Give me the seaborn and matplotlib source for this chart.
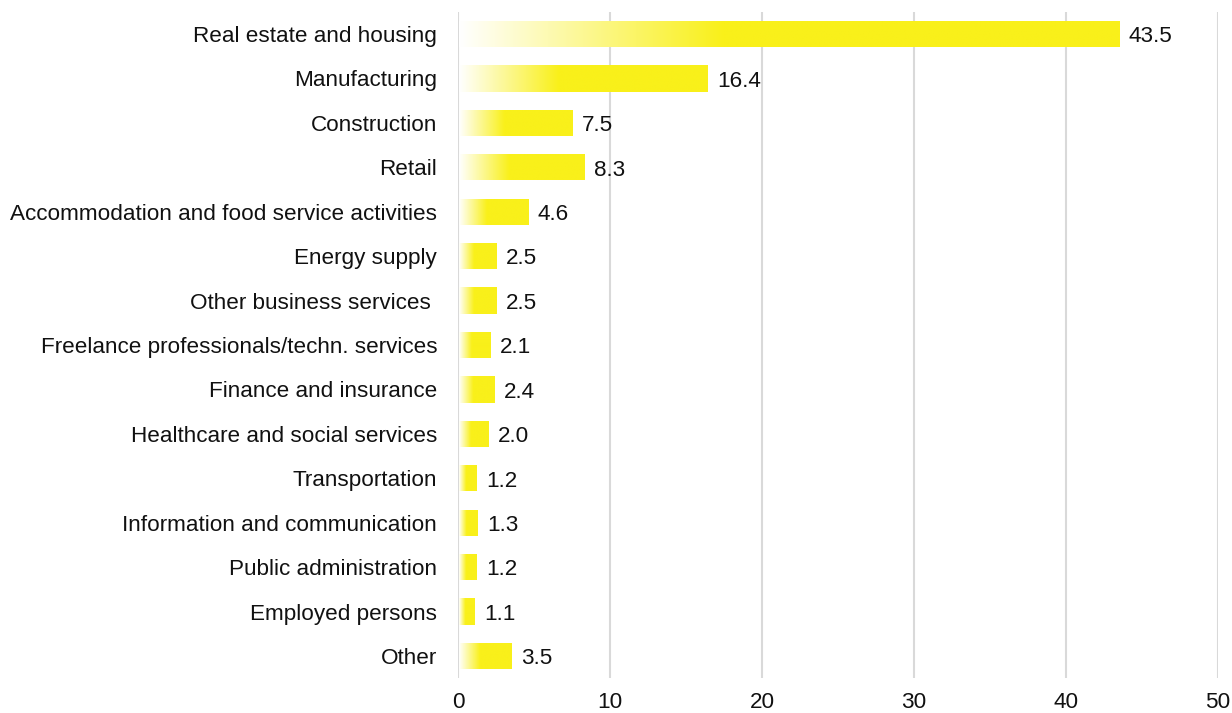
import numpy as np
import pandas as pd
import matplotlib
matplotlib.use("Agg")
import matplotlib.pyplot as plt
from matplotlib.colors import LinearSegmentedColormap
import seaborn as sns

categories = [
    "Real estate and housing",
    "Manufacturing",
    "Construction",
    "Retail",
    "Accommodation and food service activities",
    "Energy supply",
    "Other business services ",
    "Freelance professionals/techn. services",
    "Finance and insurance",
    "Healthcare and social services",
    "Transportation",
    "Information and communication",
    "Public administration",
    "Employed persons",
    "Other",
]
values = [43.5, 16.4, 7.5, 8.3, 4.6, 2.5, 2.5, 2.1, 2.4, 2.0, 1.2, 1.3, 1.2, 1.1, 3.5]
x_ticks = [0, 10, 20, 30, 40, 50]

YELLOW = "#f9f01a"
GRID = "#d9d9d9"
FS = 16.2

sns.set_theme(style="white")
plt.rcParams["font.family"] = ["Liberation Sans", "DejaVu Sans"]

df = pd.DataFrame({"category": categories, "value": values})

fig = plt.figure(figsize=(12.32, 7.13), dpi=100)
ax = fig.add_axes([0.3718, 0.0488, 0.9886 - 0.3718, 0.9834 - 0.0488])

sns.barplot(data=df, y="category", x="value", orient="h", color=YELLOW,
            width=0.59, ax=ax, saturation=1)

ax.set_xticks(x_ticks)
ax.xaxis.grid(True, color=GRID, linewidth=1.5)
ax.set_axisbelow(True)
for s in ax.spines.values():
    s.set_visible(False)
ax.set_xlabel("")
ax.set_ylabel("")
ax.tick_params(axis="x", labelsize=FS, pad=10, length=0, colors="#111111")
ax.tick_params(axis="y", labelsize=FS, pad=15, length=0, colors="#111111")

# gradient fill: white at bar start -> yellow at ~40% of bar length
cmap = LinearSegmentedColormap.from_list(
    "grad", [(0.0, "#ffffff"), (0.40, YELLOW), (1.0, YELLOW)])
grad = np.linspace(0, 1, 256).reshape(1, -1)
for patch in list(ax.patches):
    x0 = patch.get_x()
    y0 = patch.get_y()
    w = patch.get_width()
    h = patch.get_height()
    patch.set_facecolor("none")
    patch.set_edgecolor("none")
    im = ax.imshow(grad, cmap=cmap, aspect="auto",
                   extent=[x0 + 0.05, x0 + w, y0 + h, y0], zorder=2,
                   interpolation="bilinear")
    im.set_clip_path(patch)

ax.set_xlim(0, 50)
ax.set_ylim(len(categories) - 0.5, -0.5)

for container in ax.containers:
    labels = ax.bar_label(container, fmt="%.1f", padding=7, fontsize=FS,
                          color="#111111")
    for t in labels:
        t.xyann = (7, -2)

fig.savefig("out.png", dpi=100)
